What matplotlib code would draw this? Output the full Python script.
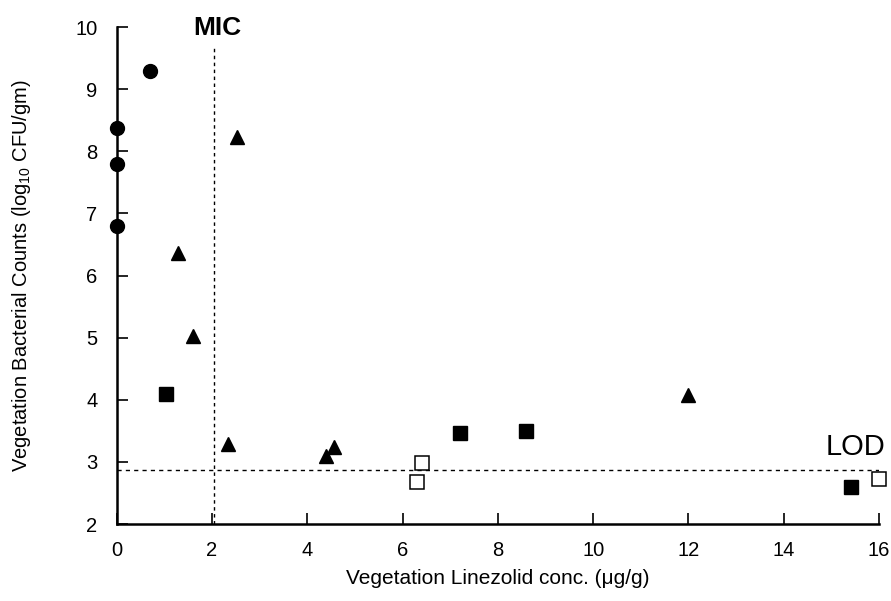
import matplotlib
matplotlib.use("Agg")
import matplotlib.pyplot as plt

plt.rcParams['font.family'] = ['Liberation Sans', 'DejaVu Sans']
plt.rcParams['mathtext.fontset'] = 'custom'
plt.rcParams['mathtext.rm'] = 'Liberation Sans'
plt.rcParams['mathtext.it'] = 'Liberation Sans'

circle_x = [0.0, 0.0, 0.0, 0.69]
circle_y = [8.38, 7.79, 6.80, 9.29]
tri_x = [1.28, 2.52, 1.60, 2.33, 4.39, 4.56, 12.0]
tri_y = [6.36, 8.23, 5.03, 3.29, 3.09, 3.24, 4.07]
sq_x = [1.03, 7.2, 8.59, 15.42]
sq_y = [4.09, 3.46, 3.50, 2.59]
open_x = [6.3, 6.4, 16.0]
open_y = [2.67, 2.98, 2.72]
mic = 2.05
lod = 2.87
xticks = [0, 2, 4, 6, 8, 10, 12, 14, 16]
yticks = [2, 3, 4, 5, 6, 7, 8, 9, 10]

fig = plt.figure(figsize=(8.91, 6.01), dpi=100)
ax = fig.add_axes([0.131, 0.128, 0.8555, 0.827])

ax.plot([mic, mic], [2, 9.71], ls=(0, (2.5, 2.5)), color='black', lw=1.0)
ax.plot([0, 16], [lod, lod], ls=(0, (3, 3)), color='black', lw=1.0)

ax.plot(circle_x, circle_y, 'o', color='black', ms=10, clip_on=False)
ax.plot(tri_x, tri_y, '^', color='black', ms=10.5, clip_on=False)
ax.plot(sq_x, sq_y, 's', color='black', ms=10, clip_on=False)
ax.plot(open_x, open_y, 's', mfc='white', mec='black', mew=1.1, ms=9.8, clip_on=False)

ax.text(1.6, 9.87, 'MIC', fontsize=19, fontweight='bold', ha='left', va='baseline')
ax.text(16.13, 3.11, 'LOD', fontsize=21, ha='right', va='baseline')

ax.set_xlim(0, 16)
ax.set_ylim(2, 10)
ax.set_xticks(xticks)
ax.set_yticks(yticks)
ax.tick_params(direction='in', length=8, width=1.2, labelsize=14.5)
ax.tick_params(axis='x', pad=12)
ax.tick_params(axis='y', pad=14)
for s in ['top', 'right']:
    ax.spines[s].set_visible(False)
for s in ['left', 'bottom']:
    ax.spines[s].set_linewidth(1.8)

ax.set_xlabel('Vegetation Linezolid conc. (\u03bcg/g)', fontsize=15, labelpad=7)
ax.set_ylabel(r'Vegetation Bacterial Counts (log$_{\mathrm{10}}$ CFU/gm)', fontsize=14.5, labelpad=30)

fig.savefig('out.png', dpi=100)
